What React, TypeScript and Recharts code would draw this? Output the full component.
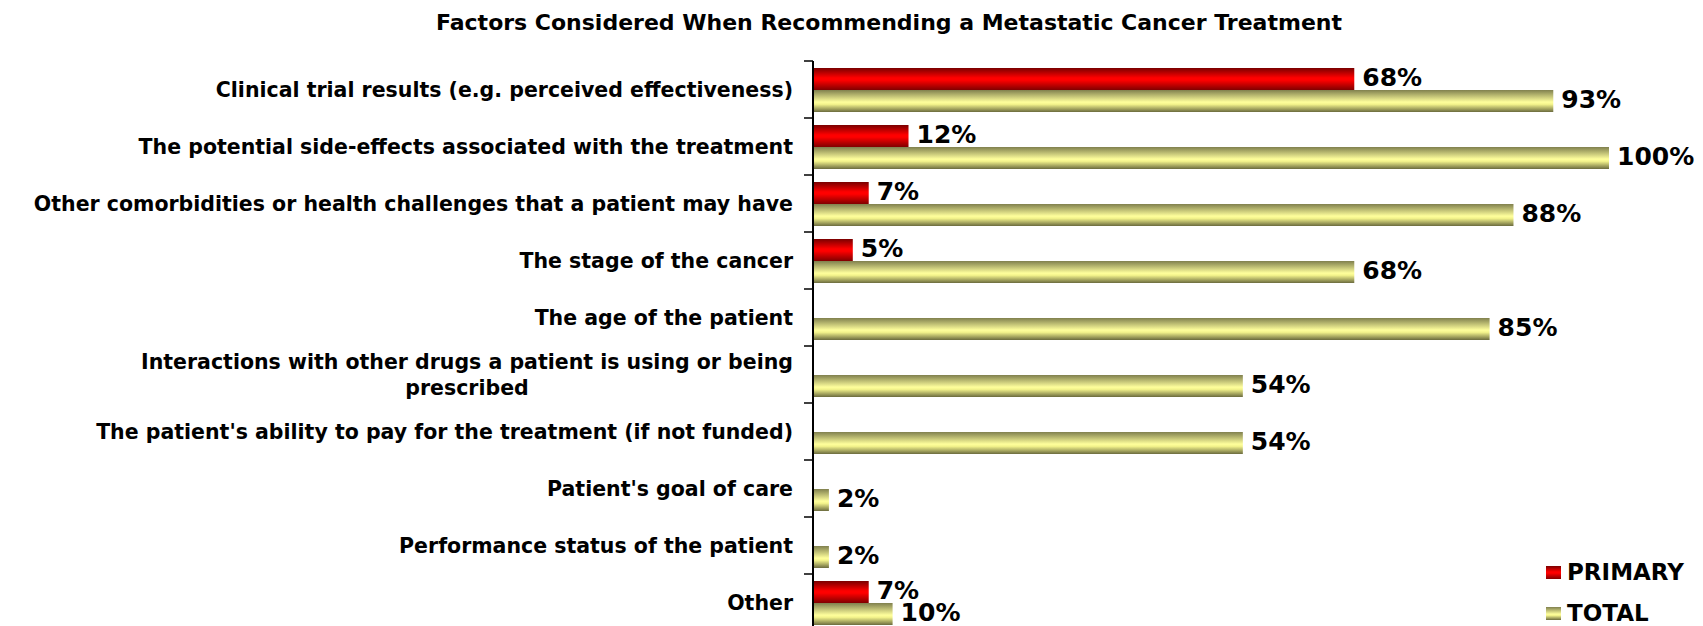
import React from 'react';
import { BarChart, Bar, XAxis, YAxis, LabelList } from 'recharts';

const title = 'Factors Considered When Recommending a Metastatic Cancer Treatment';
const categories = [
  'Clinical trial results (e.g. perceived effectiveness)',
  'The potential side-effects associated with the treatment',
  'Other comorbidities or health challenges that a patient may have',
  'The stage of the cancer',
  'The age of the patient',
  'Interactions with other drugs a patient is using or being prescribed',
  "The patient's ability to pay for the treatment (if not funded)",
  "Patient's goal of care",
  'Performance status of the patient',
  'Other',
];
const primaryValues: (number | null)[] = [68, 12, 7, 5, null, null, null, null, null, 7];
const totalValues: number[] = [93, 100, 88, 68, 85, 54, 54, 2, 2, 10];
const seriesNames = ['PRIMARY', 'TOTAL'];

const data = categories.map((name, i) => ({
  name,
  primary: primaryValues[i],
  total: totalValues[i],
}));

const FONT = "'DejaVu Sans', Verdana, sans-serif";
const CHART_W = 1695;
const CHART_H = 640;
const MARGIN = { top: 53, right: 94, bottom: 17, left: 0 };
const YAXIS_W = 805;
const PLOT_H = CHART_H - MARGIN.top - MARGIN.bottom;
const BAND = PLOT_H / categories.length;
const CAT_FONT_SIZE = 20.5;
const CAT_FONT = `bold ${CAT_FONT_SIZE}px ${FONT}`;
const WRAP_WIDTH = 770;

let ctx: CanvasRenderingContext2D | null = null;
function measure(text: string): number {
  if (!ctx && typeof document !== 'undefined') {
    ctx = document.createElement('canvas').getContext('2d');
  }
  if (!ctx) return text.length * CAT_FONT_SIZE * 0.62;
  ctx.font = CAT_FONT;
  return ctx.measureText(text).width;
}

function wrap(text: string, maxW: number): string[] {
  const words = text.split(' ');
  const lines: string[] = [];
  let cur = '';
  for (const w of words) {
    const test = cur ? cur + ' ' + w : w;
    if (measure(test) > maxW && cur) {
      lines.push(cur);
      cur = w;
    } else {
      cur = test;
    }
  }
  if (cur) lines.push(cur);
  return lines;
}

const CategoryTick = (props: any) => {
  const { y, payload } = props;
  const axisX = MARGIN.left + YAXIS_W;
  const rightEdge = axisX - 20;
  const lines = wrap(String(payload.value), WRAP_WIDTH);
  const maxW = Math.max(...lines.map(measure));
  const cx = rightEdge - maxW / 2;
  const lh = 26;
  const startY = y - ((lines.length - 1) * lh) / 2;
  return (
    <g>
      <line x1={axisX - 9} x2={axisX} y1={y - BAND / 2} y2={y - BAND / 2} stroke="#000" strokeWidth={1.5} />
      {lines.map((l, i) => (
        <text
          key={i}
          x={cx}
          y={startY + i * lh}
          textAnchor="middle"
          dominantBaseline="central"
          fontFamily={FONT}
          fontWeight="bold"
          fontSize={CAT_FONT_SIZE}
          fill="#000"
        >
          {l}
        </text>
      ))}
    </g>
  );
};

const ValueLabel = (props: any) => {
  const { x, y, width, height, value } = props;
  if (value === null || value === undefined) return null;
  return (
    <text
      x={Number(x) + Number(width) + 8}
      y={Number(y) + Number(height) / 2 - 2}
      dominantBaseline="central"
      fontFamily={FONT}
      fontWeight="bold"
      fontSize={25}
      fill="#000"
    >
      {`${value}%`}
    </text>
  );
};

const legendSwatches = [
  'linear-gradient(to bottom, #7a0000 0%, #ff0000 45%, #ff0000 55%, #800000 100%)',
  'linear-gradient(to bottom, #80804e 0%, #ffff9c 55%, #f4f48c 65%, #6b6b3e 100%)',
];

export default function App() {
  return (
    <div style={{ position: 'relative', width: CHART_W, height: 618, overflow: 'hidden', background: '#fff' }}>
      <div
        style={{
          position: 'absolute',
          left: 381,
          width: 1000,
          top: 0,
          height: 30,
          lineHeight: '30px',
          textAlign: 'center',
          fontFamily: FONT,
          fontWeight: 'bold',
          fontSize: 22,
          color: '#000',
          whiteSpace: 'nowrap',
        }}
      >
        {title}
      </div>
      <BarChart
        width={CHART_W}
        height={CHART_H}
        data={data}
        layout="vertical"
        margin={MARGIN}
        barGap={0}
        barSize={22}
      >
        <defs>
          <linearGradient id="gradPrimary" x1="0" y1="0" x2="0" y2="1">
            <stop offset="0%" stopColor="#7a0000" />
            <stop offset="45%" stopColor="#ff0000" />
            <stop offset="55%" stopColor="#ff0000" />
            <stop offset="100%" stopColor="#800000" />
          </linearGradient>
          <linearGradient id="gradTotal" x1="0" y1="0" x2="0" y2="1">
            <stop offset="0%" stopColor="#80804e" />
            <stop offset="55%" stopColor="#ffff9c" />
            <stop offset="65%" stopColor="#f4f48c" />
            <stop offset="100%" stopColor="#6b6b3e" />
          </linearGradient>
        </defs>
        <XAxis type="number" domain={[0, 100]} hide />
        <YAxis
          type="category"
          dataKey="name"
          width={YAXIS_W}
          interval={0}
          tickLine={false}
          axisLine={{ stroke: '#000', strokeWidth: 2 }}
          tick={<CategoryTick />}
        />
        <Bar dataKey="primary" name={seriesNames[0]} fill="url(#gradPrimary)" isAnimationActive={false}>
          <LabelList dataKey="primary" content={<ValueLabel />} />
        </Bar>
        <Bar dataKey="total" name={seriesNames[1]} fill="url(#gradTotal)" isAnimationActive={false}>
          <LabelList dataKey="total" content={<ValueLabel />} />
        </Bar>
      </BarChart>
      {seriesNames.map((n, i) => (
        <div key={n} style={{ position: 'absolute', left: 1538, top: 551 + i * 41, height: 26, display: 'flex', alignItems: 'center' }}>
          <div style={{ width: 15, height: 13, background: legendSwatches[i] }} />
          <div style={{ marginLeft: 6, fontFamily: FONT, fontWeight: 'bold', fontSize: 23, color: '#000', lineHeight: '26px' }}>{n}</div>
        </div>
      ))}
    </div>
  );
}
